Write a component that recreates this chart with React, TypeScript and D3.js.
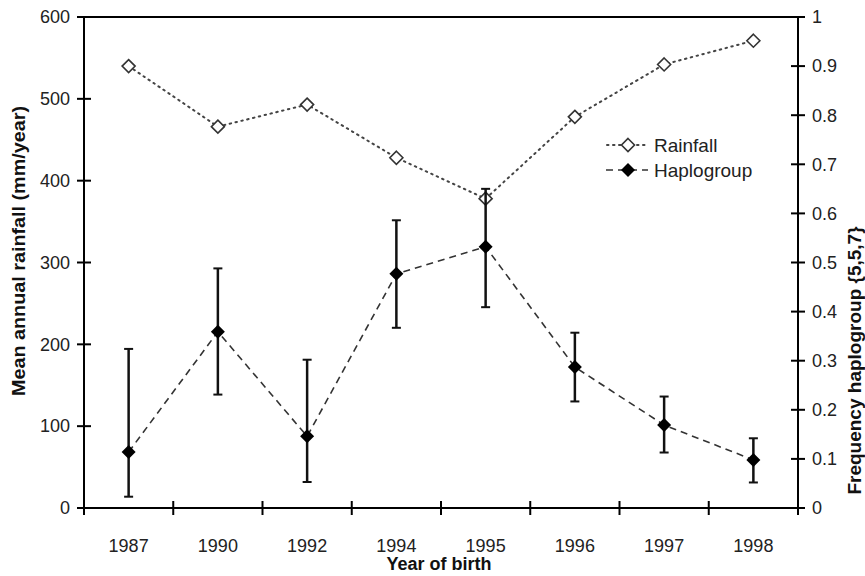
import React from "react";
import * as d3 from "d3";

const years = ["1987", "1990", "1992", "1994", "1995", "1996", "1997", "1998"];
const rainfall = [540, 466, 493, 428, 378, 478, 542, 571];
const haplo = [0.114, 0.359, 0.146, 0.477, 0.532, 0.287, 0.169, 0.098];
const haploUpper = [0.324, 0.488, 0.302, 0.586, 0.65, 0.357, 0.227, 0.142];
const haploLower = [0.023, 0.231, 0.053, 0.367, 0.409, 0.217, 0.113, 0.052];
const leftTicks = [0, 100, 200, 300, 400, 500, 600];
const rightTicks = [0, 0.1, 0.2, 0.3, 0.4, 0.5, 0.6, 0.7, 0.8, 0.9, 1];

const W = 865, H = 576;
const L = 84, R = 798, T = 17, B = 508;
const FONT = "'Liberation Sans', Arial, Helvetica, sans-serif";

export default function App() {
  const x = d3.scaleBand<string>().domain(years).range([L, R]).padding(0);
  const yL = d3.scaleLinear().domain([0, 600]).range([B, T]);
  const yR = d3.scaleLinear().domain([0, 1]).range([B, T]);
  const cx = (i: number) => (x(years[i]) as number) + x.bandwidth() / 2;

  const rainLine = d3.line<number>().x((_, i) => cx(i)).y((d) => yL(d))(rainfall) as string;
  const hapLine = d3.line<number>().x((_, i) => cx(i)).y((d) => yR(d))(haplo) as string;

  const diamond = (px: number, py: number, r: number) =>
    `M${px},${py - r}L${px + r},${py}L${px},${py + r}L${px - r},${py}Z`;

  const bounds = years.map((y) => x(y) as number).concat([R]);

  return (
    <svg width={W} height={H} style={{ position: "absolute", left: 0, top: 0, background: "#fff" }} fontFamily={FONT}>
      <rect x={0} y={0} width={W} height={H} fill="#fff" />
      {/* frame */}
      <line x1={L} y1={T} x2={R} y2={T} stroke="#000" strokeWidth={2} />
      <line x1={L} y1={T} x2={L} y2={B} stroke="#000" strokeWidth={2} />
      <line x1={R} y1={T} x2={R} y2={B} stroke="#000" strokeWidth={2} />
      <line x1={L} y1={B} x2={R} y2={B} stroke="#000" strokeWidth={2} />
      {/* left ticks */}
      {leftTicks.map((t) => (
        <g key={"l" + t}>
          <line x1={L - 7} x2={L + 7} y1={yL(t)} y2={yL(t)} stroke="#000" strokeWidth={2} />
          <text x={L - 14} y={yL(t)} dy="0.35em" textAnchor="end" fontSize={18} fill="#222">{t}</text>
        </g>
      ))}
      {/* right ticks */}
      {rightTicks.map((t) => (
        <g key={"r" + t}>
          <line x1={R - 7} x2={R + 7} y1={yR(t)} y2={yR(t)} stroke="#000" strokeWidth={2} />
          <text x={R + 14} y={yR(t)} dy="0.35em" textAnchor="start" fontSize={18} fill="#222">{d3.format("~g")(t)}</text>
        </g>
      ))}
      {/* x ticks */}
      {bounds.map((b, i) => (
        <line key={"x" + i} x1={b} x2={b} y1={B - 7} y2={B + 7} stroke="#000" strokeWidth={2} />
      ))}
      {years.map((yr, i) => (
        <text key={"xl" + yr} x={cx(i)} y={B + 38} dy="0.35em" textAnchor="middle" fontSize={18} fill="#222">{yr}</text>
      ))}
      {/* axis titles */}
      <text x={L + (R - L) / 2 - 2} y={570} textAnchor="middle" fontSize={18} fontWeight="bold" fill="#111">Year of birth</text>
      <text transform={`translate(25,251) rotate(-90)`} textAnchor="middle" fontSize={19} fontWeight="bold" fill="#111" textLength={290} lengthAdjust="spacingAndGlyphs">Mean annual rainfall (mm/year)</text>
      <text transform={`translate(861,${(T + B) / 2 + 98}) rotate(-90)`} textAnchor="middle" fontSize={19} fontWeight="bold" fill="#111">Frequency haplogroup {"{5,5,7}"}</text>

      {/* rainfall */}
      <path d={rainLine} fill="none" stroke="#444" strokeWidth={2} strokeDasharray="1.5,4.5" strokeLinecap="round" />
      {rainfall.map((v, i) => (
        <path key={"rm" + i} d={diamond(cx(i), yL(v), 6.5)} fill="#fff" stroke="#333" strokeWidth={1.6} />
      ))}

      {/* haplogroup */}
      <path d={hapLine} fill="none" stroke="#333" strokeWidth={1.6} strokeDasharray="7,5" />
      {haplo.map((v, i) => (
        <g key={"hm" + i}>
          <line x1={cx(i)} x2={cx(i)} y1={yR(haploUpper[i])} y2={yR(haploLower[i])} stroke="#111" strokeWidth={2.5} />
          <line x1={cx(i) - 4.5} x2={cx(i) + 4.5} y1={yR(haploUpper[i])} y2={yR(haploUpper[i])} stroke="#111" strokeWidth={2} />
          <line x1={cx(i) - 4.5} x2={cx(i) + 4.5} y1={yR(haploLower[i])} y2={yR(haploLower[i])} stroke="#111" strokeWidth={2} />
          <path d={diamond(cx(i), yR(v), 7)} fill="#000" />
        </g>
      ))}

      {/* legend */}
      <g>
        <line x1={607} x2={648} y1={145} y2={145} stroke="#444" strokeWidth={2} strokeDasharray="1.5,4.5" strokeLinecap="round" />
        <path d={diamond(628, 145, 6.5)} fill="#fff" stroke="#333" strokeWidth={1.6} />
        <text x={654} y={145} dy="0.35em" fontSize={19} fill="#222">Rainfall</text>
        <line x1={606} x2={648} y1={170} y2={170} stroke="#333" strokeWidth={1.6} strokeDasharray="7,5" />
        <path d={diamond(628, 170, 7)} fill="#000" />
        <text x={654} y={170} dy="0.35em" fontSize={19} fill="#222">Haplogroup</text>
      </g>
    </svg>
  );
}
